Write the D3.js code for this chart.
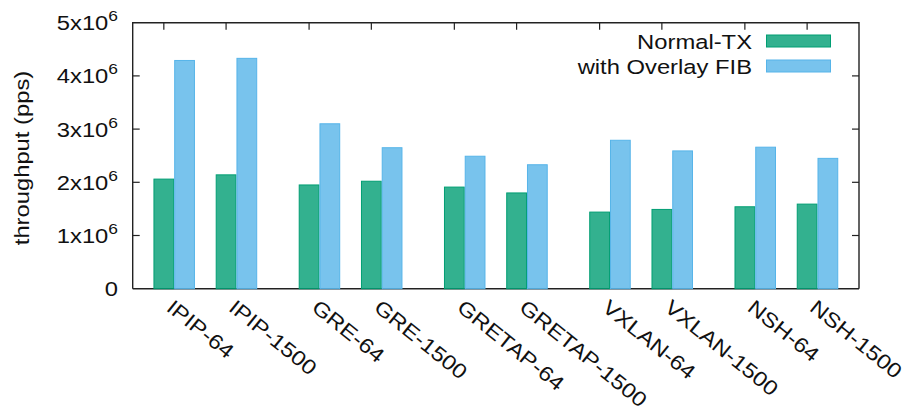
<!DOCTYPE html>
<html>
<head>
<meta charset="utf-8">
<script src="https://cdn.jsdelivr.net/npm/d3@7"></script>
<style>
  html, body { margin: 0; padding: 0; background: #fff; }
  svg { display: block; font-family: "Liberation Sans", Arial, Helvetica, sans-serif; }
</style>
</head>
<body>
<svg id="chart" width="903" height="412"></svg>
<script>
// Throughput per tunnel type and packet size
const categories = ["IPIP-64", "IPIP-1500", "GRE-64", "GRE-1500", "GRETAP-64",
                    "GRETAP-1500", "VXLAN-64", "VXLAN-1500", "NSH-64", "NSH-1500"];
const normalTX   = [2.06e6, 2.14e6, 1.95e6, 2.02e6, 1.91e6, 1.80e6, 1.44e6, 1.49e6, 1.54e6, 1.59e6];
const overlayFIB = [4.29e6, 4.33e6, 3.10e6, 2.65e6, 2.49e6, 2.33e6, 2.79e6, 2.59e6, 2.66e6, 2.45e6];
const seriesNames = ["Normal-TX", "with Overlay FIB"];
const yTicks = [0, 1e6, 2e6, 3e6, 4e6, 5e6];

const svg = d3.select("#chart");
const plotL = 132.7, plotR = 859, plotT = 22.7, plotB = 288.7;
const fs = 20.5;      // font size
const wide = 1.16;    // horizontal widening of the text face

// Pairs of categories share a cluster; clusters are separated by an extra gap
const slot = i => i * 3 + Math.floor(i / 2);
const x = d3.scaleLinear().domain([-2, 33]).range([plotL, plotR]);
const y = d3.scaleLinear().domain([0, 5e6]).range([plotB, plotT]);
const unit = x(1) - x(0);

const colors = ["#009e73", "#56b4e9"];
const series = [normalTX, overlayFIB];

// Bottom axis line, drawn first so the bars sit over it
svg.append("line").attr("x1", plotL).attr("x2", plotR).attr("y1", plotB).attr("y2", plotB)
  .attr("stroke", "#222").attr("stroke-width", 1.4);

// Bars
series.forEach((vals, s) => {
  svg.append("g").selectAll("rect").data(vals).join("rect")
    .attr("x", (d, i) => x(slot(i) - 1 + s) + 0.5)
    .attr("width", unit - 1)
    .attr("y", d => y(d))
    .attr("height", d => y(0) - y(d))
    .attr("fill", colors[s]).attr("fill-opacity", 0.8)
    .attr("stroke", colors[s]).attr("stroke-width", 1);
});

// Frame
const frame = svg.append("g").attr("fill", "none").attr("stroke", "#222").attr("stroke-width", 1.4);
frame.append("path").attr("d", `M${plotL},${plotB}V${plotT}H${plotR}V${plotB}`);

// Y ticks on both sides
const tickG = svg.append("g").attr("stroke", "#222").attr("stroke-width", 1.2);
yTicks.slice(1, -1).forEach(t => {
  tickG.append("line").attr("x1", plotL).attr("x2", plotL + 7).attr("y1", y(t)).attr("y2", y(t));
  tickG.append("line").attr("x1", plotR).attr("x2", plotR - 7).attr("y1", y(t)).attr("y2", y(t));
});
// Top ticks over each category's first bar
categories.forEach((c, i) => {
  tickG.append("line").attr("x1", x(slot(i) - 0.5)).attr("x2", x(slot(i) - 0.5))
    .attr("y1", plotT).attr("y2", plotT + 7);
});

// Y tick labels
const yl = svg.append("g").attr("font-size", fs).attr("fill", "#111");
yTicks.forEach(t => {
  const txt = yl.append("text")
    .attr("transform", `translate(118,${y(t) + 7.5}) scale(${wide},1)`)
    .attr("text-anchor", "end");
  if (t === 0) { txt.text("0"); return; }
  txt.append("tspan").text(`${t / 1e6}x10`);
  txt.append("tspan").attr("dy", -9).attr("font-size", 15).text("6");
});

// Y axis title
svg.append("text")
  .attr("transform", `translate(29,158) rotate(-90) scale(${wide},1)`)
  .attr("text-anchor", "middle").attr("font-size", fs).attr("fill", "#111")
  .text("throughput (pps)");

// X labels, rotated
svg.append("g").selectAll("text").data(categories).join("text")
  .attr("transform", (d, i) => `translate(${x(slot(i)) - 9},${plotB + 21}) rotate(39) scale(${wide},1)`)
  .attr("font-size", fs).attr("fill", "#111")
  .text(d => d);

// Legend
const legend = svg.append("g");
seriesNames.forEach((name, s) => {
  const ly = 48.5 + s * 25;
  legend.append("text")
    .attr("transform", `translate(752,${ly}) scale(${wide},1)`)
    .attr("text-anchor", "end")
    .attr("font-size", fs).attr("fill", "#111").text(name);
  legend.append("rect").attr("x", 766.5).attr("y", ly - 13.5).attr("width", 64).attr("height", 12)
    .attr("fill", colors[s]).attr("fill-opacity", 0.8)
    .attr("stroke", colors[s]).attr("stroke-width", 1);
});
</script>
</body>
</html>
